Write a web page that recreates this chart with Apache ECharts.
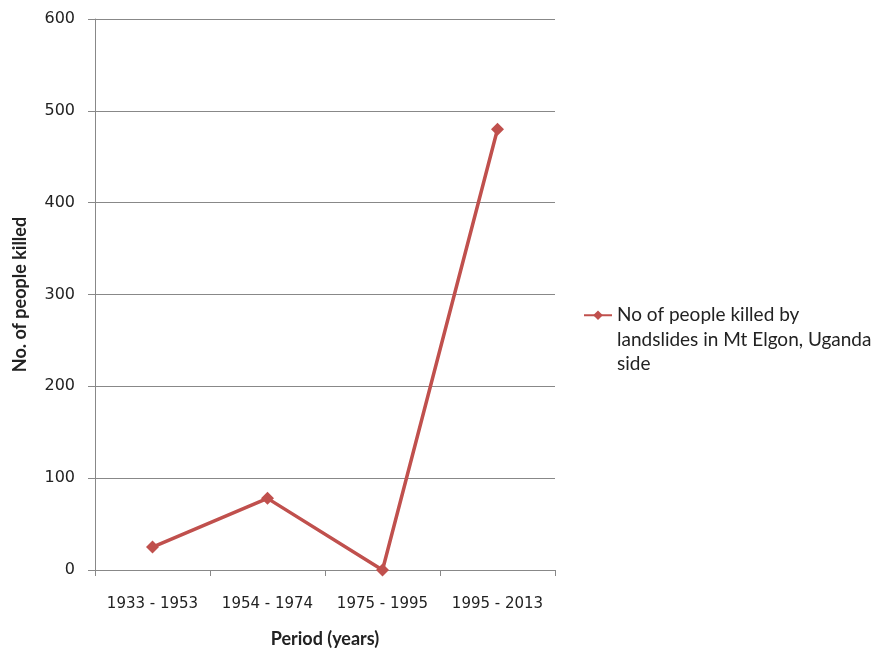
<!DOCTYPE html>
<html><head><meta charset="utf-8">
<script src="https://cdn.jsdelivr.net/npm/echarts@6/dist/echarts.min.js"></script>
<style>html,body{margin:0;padding:0;background:#fff}#c{width:888px;height:650px}</style>
</head><body><div id="c"></div>
<script>
const categories = ['1933 - 1953', '1954 - 1974', '1975 - 1995', '1995 - 2013'];
const killed = [25, 78, 0, 480];
const seriesName = 'No of people killed by landslides in Mt Elgon, Uganda side';
const legendLines = ['No of people killed by', 'landslides in Mt Elgon, Uganda', 'side'];

const chart = echarts.init(document.getElementById('c'), null, {renderer: 'canvas'});
chart.setOption({
  animation: false,
  backgroundColor: '#fff',
  grid: {left: 95, top: 19, right: 333, bottom: 80, containLabel: false, outerBoundsMode: 'none'},
  legend: {
    left: 578, top: 249, orient: 'vertical',
    itemWidth: 28, itemHeight: 12,
    data: [{name: seriesName}],
    formatter: () => '{e|}\n{e|}\n' + legendLines.join('\n'),
    textStyle: {fontFamily: 'Lato', fontSize: 19, color: '#222', lineHeight: 24.5,
      rich: {e: {fontSize: 19, lineHeight: 24.5}}}
  },
  xAxis: {
    type: 'category', data: categories, boundaryGap: true,
    axisLine: {lineStyle: {color: '#888', width: 1}},
    axisTick: {show: true, length: 6, lineStyle: {color: '#888'}},
    axisLabel: {fontFamily: 'DejaVu Sans', fontSize: 15, color: '#222', margin: 27, interval: 0},
    name: 'Period (years)', nameLocation: 'middle', nameGap: 60,
    nameTextStyle: {fontFamily: 'Lato', fontWeight: 'bold', fontSize: 18, color: '#222'}
  },
  yAxis: {
    type: 'value', min: 0, max: 600, interval: 100,
    axisLine: {show: true, lineStyle: {color: '#888'}},
    axisTick: {show: true, length: 7, lineStyle: {color: '#888'}},
    splitLine: {lineStyle: {color: '#888', width: 1}},
    axisLabel: {fontFamily: 'DejaVu Sans', fontSize: 16, color: '#222', margin: 20},
    name: 'No. of people killed', nameLocation: 'middle', nameGap: 66, nameRotate: 90,
    nameTextStyle: {fontFamily: 'Lato', fontWeight: 'bold', fontSize: 18, color: '#222'}
  },
  series: [{
    name: seriesName, type: 'line', data: killed,
    symbol: 'diamond', symbolSize: 13,
    lineStyle: {color: '#C0504D', width: 3.5},
    itemStyle: {color: '#C0504D'}
  }]
});
</script></body></html>
